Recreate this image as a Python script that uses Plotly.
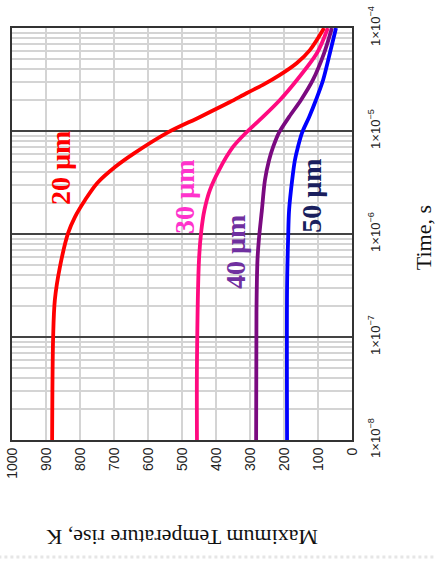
import plotly.graph_objects as go

# Time (s) and maximum temperature rise (K)
t_20 = [1e-8, 1e-7, 2.29e-7, 4.8e-7, 1.02e-6, 1.46e-6, 2.14e-6, 3.13e-6, 4.47e-6, 6.1e-6,
        9.6e-6, 1.37e-5, 1.91e-5, 2.34e-5, 2.8e-5, 3.5e-5, 4.57e-5, 6.1e-5, 1e-4]
T_20 = [882, 879, 874, 859, 835, 815, 785, 749, 697, 640,
        544, 447, 359, 309, 262, 212, 162, 124, 82]

t_30 = [1e-8, 5.6e-8, 5.6e-7, 1.09e-6, 1.71e-6, 2.67e-6, 4.18e-6, 7.0e-6,
        9.6e-6, 1.37e-5, 2.0e-5, 3.13e-5, 5.71e-5, 1e-4]
T_30 = [456, 456, 450, 443, 434, 418, 391, 350,
        312, 262, 212, 162, 103, 71]

t_40 = [1e-8, 1.75e-7, 5.6e-7, 8.75e-7, 1.71e-6, 3.34e-6, 5.2e-6, 7.0e-6,
        9.6e-6, 1.37e-5, 2.0e-5, 3.13e-5, 5.71e-5, 1e-4]
T_40 = [282, 281, 278, 274, 265, 256, 244, 232,
        215, 185, 150, 115, 82, 59]

t_50 = [1e-8, 3.0e-7, 8.75e-7, 1.71e-6, 3.34e-6, 5.2e-6, 7.0e-6,
        9.6e-6, 1.37e-5, 2.0e-5, 3.13e-5, 5.71e-5, 1e-4]
T_50 = [191, 191, 188, 185, 176, 168, 159,
        147, 126, 106, 85, 65, 47]

series = [
    ("20 µm", t_20, T_20, "#FF0000"),
    ("30 µm", t_30, T_30, "#FF0A80"),
    ("40 µm", t_40, T_40, "#7A0A80"),
    ("50 µm", t_50, T_50, "#0000FF"),
]

x_ticks = [0, 100, 200, 300, 400, 500, 600, 700, 800, 900, 1000]
y_ticks = [1e-8, 1e-7, 1e-6, 1e-5, 1e-4]
y_ticktext = ["1×10<sup>−8</sup>", "1×10<sup>−7</sup>", "1×10<sup>−6</sup>",
              "1×10<sup>−5</sup>", "1×10<sup>−4</sup>"]

fig = go.Figure()
for name, t, T, c in series:
    fig.add_trace(go.Scatter(x=T, y=t, mode="lines", name=name,
                             line=dict(color=c, width=3.8, shape="spline", smoothing=0.9),
                             showlegend=False, hoverinfo="skip"))

labels = [
    ("20 µm", 859, -5.36, "#FF0000"),
    ("30 µm", 491, -5.64, "#FF33CC"),
    ("40 µm", 344, -6.175, "#7030A0"),
    ("50 µm", 118, -5.63, "#1A1F5E"),
]
for txt, x, y, c in labels:
    fig.add_annotation(x=x, y=y, xref="x", yref="y", text="<b>" + txt + "</b>",
                       showarrow=False, textangle=-90,
                       font=dict(family="Liberation Serif", size=28, color=c))

fig.add_annotation(x=0.5, y=-0.238, xref="paper", yref="paper",
                   xanchor="center", yanchor="middle",
                   text="Maximum Temperature rise, K", showarrow=False, textangle=180,
                   font=dict(family="Liberation Serif", size=22, color="#111"))
fig.add_annotation(x=1.209, y=0.49, xref="paper", yref="paper",
                   xanchor="center", yanchor="middle", text="Time, s",
                   showarrow=False, textangle=-90,
                   font=dict(family="Liberation Serif", size=22, color="#111"))

# faint dotted page edge at the bottom of the picture
fig.add_shape(type="line", xref="paper", yref="paper", x0=-0.04, x1=1.25,
              y0=-0.284, y1=-0.284, line=dict(color="#e6e6e6", width=3, dash="dot"))

fig.update_layout(
    width=435, height=561,
    margin=dict(l=12, r=83, t=28, b=121),
    paper_bgcolor="white", plot_bgcolor="white",
    xaxis=dict(range=[1000, 0], tickvals=x_ticks, tickangle=-90, automargin=False,
               showgrid=True, gridcolor="#d4d4d4", gridwidth=1.5,
               showline=True, linecolor="#333", linewidth=2, mirror=True,
               ticks="", zeroline=False,
               tickfont=dict(family="Liberation Sans", size=14, color="#222")),
    yaxis=dict(type="log", range=[-8, -4], side="right", automargin=False,
               tickvals=y_ticks, ticktext=y_ticktext, tickangle=-90,
               showgrid=True, gridcolor="#444", gridwidth=1.5,
               minor=dict(dtick="D1", showgrid=True, gridcolor="#d4d4d4", gridwidth=1.5),
               showline=True, linecolor="#333", linewidth=2, mirror=True,
               ticks="", zeroline=False, ticklabelstandoff=10,
               tickfont=dict(family="Liberation Sans", size=13, color="#222")),
)

fig.write_html("out.html")
